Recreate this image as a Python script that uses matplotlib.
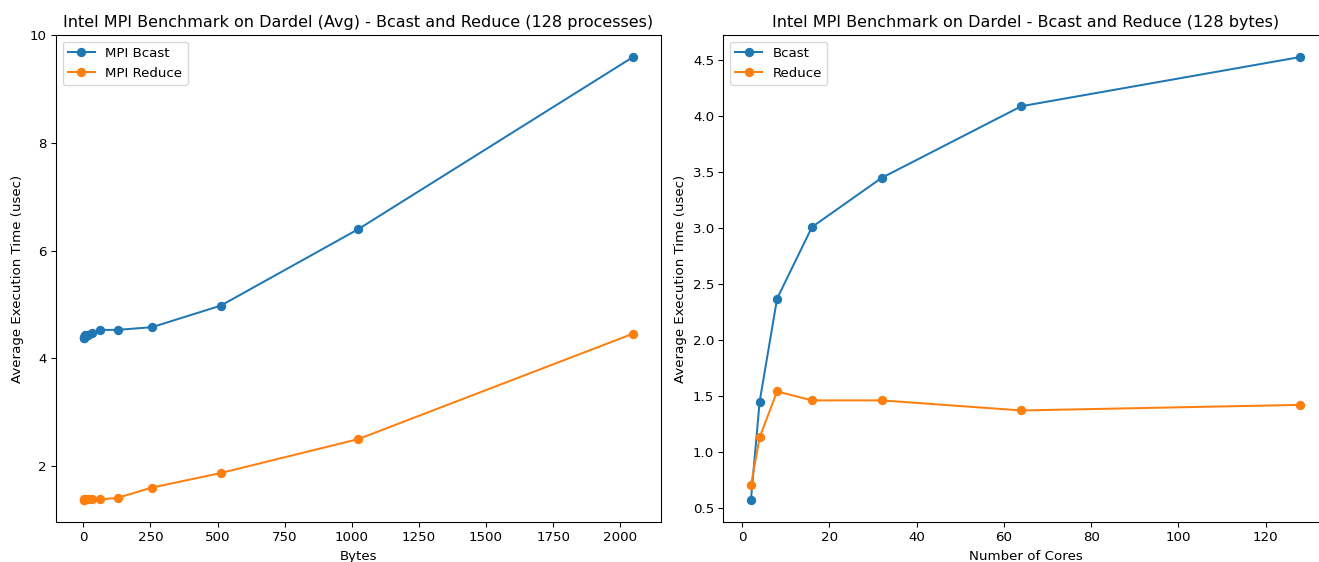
import numpy as np
import matplotlib.pyplot as plt

# left panel: message size sweep, 128 processes
msg_bytes = [1, 2, 4, 8, 16, 32, 64, 128, 256, 512, 1024, 2048]
bcast_avg = [4.37, 4.38, 4.40, 4.43, 4.44, 4.47, 4.53, 4.53, 4.58, 4.98, 6.40, 9.60]
reduce_avg = [1.38, 1.37, 1.37, 1.38, 1.38, 1.38, 1.38, 1.41, 1.60, 1.87, 2.50, 4.46]

# right panel: core sweep, 128 bytes
cores = [2, 4, 8, 16, 32, 64, 128]
bcast_cores = [0.57, 1.45, 2.37, 3.01, 3.45, 4.09, 4.53]
reduce_cores = [0.70, 1.13, 1.54, 1.46, 1.46, 1.37, 1.42]

dpi = 96
fig, (ax1, ax2) = plt.subplots(1, 2, figsize=(1319 / dpi, 562 / dpi), dpi=dpi)

ax1.plot(msg_bytes, bcast_avg, marker='o', label='MPI Bcast')
ax1.plot(msg_bytes, reduce_avg, marker='o', label='MPI Reduce')
ax1.set_xlabel('Bytes')
ax1.set_ylabel('Average Execution Time (usec)')
ax1.set_title('Intel MPI Benchmark on Dardel (Avg) - Bcast and Reduce (128 processes)')
ax1.set_xticks(np.arange(0, 2001, 250))
ax1.legend(loc='upper left')

ax2.plot(cores, bcast_cores, marker='o', label='Bcast')
ax2.plot(cores, reduce_cores, marker='o', label='Reduce')
ax2.set_xlabel('Number of Cores')
ax2.set_ylabel('Average Execution Time (usec)')
ax2.set_title('Intel MPI Benchmark on Dardel - Bcast and Reduce (128 bytes)')
ax2.legend(loc='upper left')

# the original image is clipped a little on the right
plt.subplots_adjust(left=0.0425, right=1.0068, top=0.938, bottom=0.071, wspace=0.104)
plt.savefig('out.png')
